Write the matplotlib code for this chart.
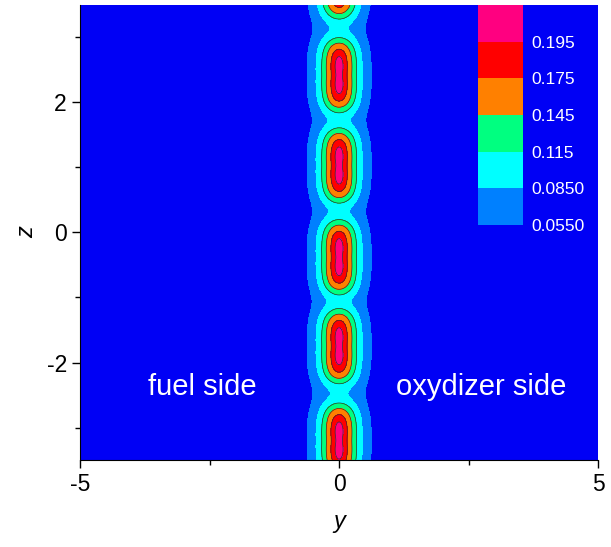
import matplotlib.pyplot as plt
import numpy as np

plt.rcParams['font.family'] = ['Liberation Sans', 'DejaVu Sans']
plt.rcParams['axes.unicode_minus'] = False

# contour levels and colours (Origin style)
levels = [0.055, 0.085, 0.115, 0.145, 0.175, 0.195, 1.0]
level_labels = ['0.0550', '0.0850', '0.115', '0.145', '0.175', '0.195']
colors = ['#0080ff', '#00ffff', '#00ff80', '#ff8000', '#ff0000', '#ff0080']
bg_blue = '#0000f5'

# flame cells (z position of each cell centre)
cell_z = [3.86, 2.42, 1.03, -0.38, -1.75, -3.20, -4.60]
# continuous sheet along y = 0
band_peak, band_w = 0.082, 0.66
# soft halo around each cell
halo_peak, halo_w, halo_len = 0.035, 0.55, 0.55
# hot core of each cell
core_peak, core_w, core_len = 0.086, 0.31, 0.54
dip = 0.04           # small dip in the middle of each core

y = np.linspace(-5, 5, 801)
z = np.linspace(-3.5, 3.5, 901)
Y, Z = np.meshgrid(y, z)

S = np.zeros_like(Z)
H = np.zeros_like(Z)
for zc in cell_z:
    d = Z - zc
    S += np.exp(-(np.abs(d) / halo_len) ** 3)
    H += np.exp(-(np.abs(d) / core_len) ** 5) * (1 - dip * np.exp(-(d / 0.1) ** 2))

F = (band_peak / (1 + (Y / band_w) ** 2)
     + halo_peak * S * np.exp(-(Y / halo_w) ** 2)
     + core_peak * H * np.exp(-(Y / core_w) ** 2))

fig = plt.figure(figsize=(6.11, 5.47), dpi=100)
ax = fig.add_axes([0.131, 0.159, 0.848, 0.832])
ax.set_facecolor(bg_blue)

cf = ax.contourf(Y, Z, F, levels=levels, colors=colors)
ax.contour(Y, Z, F, levels=levels[2:6], colors='#303030', linewidths=0.5)

ax.set_xlim(-5, 5)
ax.set_ylim(-3.5, 3.5)
ax.set_xticks([-5, 0, 5])
ax.set_xticks([-2.5, 2.5], minor=True)
ax.set_yticks([-2, 0, 2])
ax.set_yticks([-3, -1, 1, 3], minor=True)
ax.tick_params(which='major', length=6, width=1, labelsize=16.5, direction='out')
ax.tick_params(which='minor', length=3.5, width=1, direction='out')
ax.spines['top'].set_visible(False)
ax.spines['right'].set_visible(False)
ax.set_xlabel('y', style='italic', fontsize=17, labelpad=10)
ax.set_ylabel('z', style='italic', fontsize=17, labelpad=6)

ax.text(-2.64, -2.38, 'fuel side', color='white', fontsize=21,
        ha='center', va='center')
ax.text(2.74, -2.38, 'oxydizer side', color='white', fontsize=21,
        ha='center', va='center')

# colour scale placed inside the plot, top right
cax = ax.inset_axes([0.768, 0.516, 0.087, 0.484])
cb = fig.colorbar(cf, cax=cax, spacing='uniform')
cb.set_ticks(levels[:-1], labels=level_labels)
cb.outline.set_visible(False)
cax.tick_params(length=0, labelsize=12.5, labelcolor='white', pad=6)

fig.savefig('out.png', dpi=100)
